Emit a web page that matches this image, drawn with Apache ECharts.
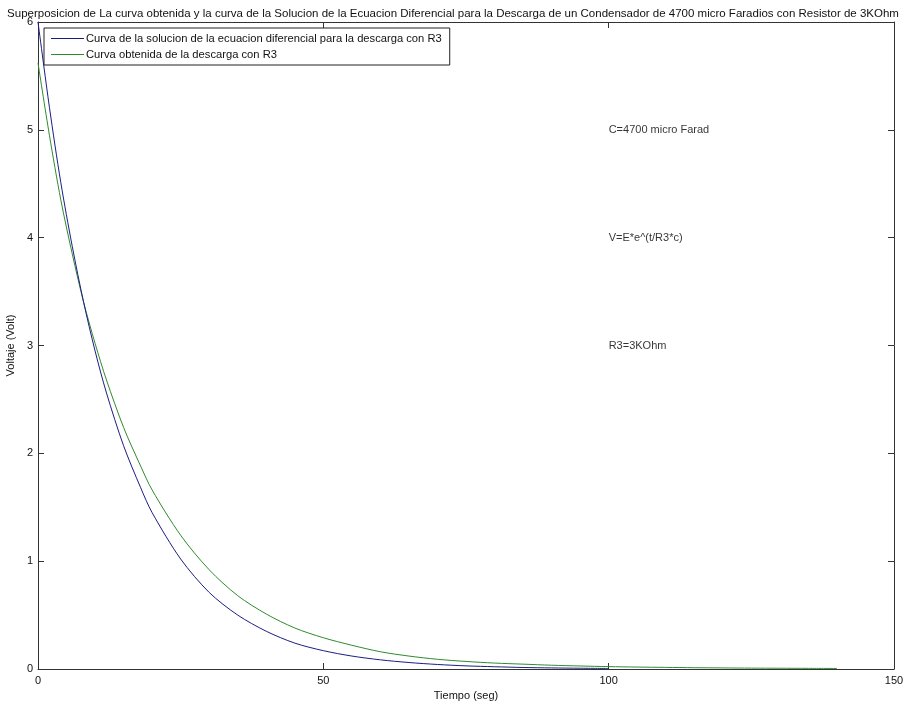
<!DOCTYPE html>
<html><head><meta charset="utf-8">
<script src="https://cdn.jsdelivr.net/npm/echarts@6/dist/echarts.min.js"></script>
<style>html,body{margin:0;padding:0;background:#fff}#c{width:906px;height:706px}</style>
</head><body><div id="c"></div>
<script>
const titleText = "Superposicion de La curva obtenida y la curva de la Solucion de la Ecuacion Diferencial para la Descarga de un Condensador de 4700 micro Faradios con Resistor de 3KOhm";
const xName = "Tiempo (seg)";
const yName = "Voltaje (Volt)";
const seriesNames = ["Curva de la solucion de la ecuacion diferencial para la descarga con R3", "Curva obtenida de la descarga con R3"];
const xTicks = [0, 50, 100, 150];
const yTicks = [0, 1, 2, 3, 4, 5, 6];

// blue: solution of the differential equation
const tSolution = [0, 2, 4, 6, 8, 10, 12, 15, 18, 20, 25, 30, 35, 40, 45, 50, 55, 60, 65, 70, 75, 80, 85, 90, 95, 100];
const vSolution = [6.00, 5.21, 4.51, 3.92, 3.40, 2.95, 2.56, 2.07, 1.68, 1.45, 1.02, 0.71, 0.50, 0.35, 0.24, 0.17, 0.12, 0.085, 0.06, 0.042, 0.029, 0.021, 0.014, 0.010, 0.007, 0.005];

const tMeasured = [0, 2, 4, 6, 8, 10, 12, 15, 18, 20, 25, 30, 35, 40, 45, 50, 55, 60, 65, 70, 75, 80, 85, 90, 95, 100, 105, 110, 115, 120, 125, 130, 135, 140];
const vMeasured = [5.62, 4.95, 4.35, 3.85, 3.40, 3.02, 2.68, 2.24, 1.88, 1.66, 1.24, 0.92, 0.68, 0.51, 0.38, 0.29, 0.22, 0.16, 0.12, 0.09, 0.07, 0.055, 0.045, 0.035, 0.028, 0.022, 0.018, 0.015, 0.012, 0.010, 0.008, 0.007, 0.006, 0.005];

const annotX = [100, 100, 100];
const annotY = [5, 4, 3];
const annotText = ["C=4700 micro Farad", "V=E*e^(t/R3*c)", "R3=3KOhm"];

const colors = ['#1c1c86', '#2f8a2f'];
const font = 'Liberation Sans, Arial, sans-serif';
const axisCol = '#333';

const chart = echarts.init(document.getElementById('c'), null, {renderer: 'canvas'});
const xMin = xTicks[0], xMax = xTicks[xTicks.length - 1];
const yMin = yTicks[0], yMax = yTicks[yTicks.length - 1];
const baseX = {
  type: 'value', min: xMin, max: xMax, interval: xTicks[1] - xTicks[0],
  axisLine: {show: true, onZero: false, lineStyle: {color: axisCol, width: 1}},
  axisTick: {show: true, inside: true, length: 6, lineStyle: {color: axisCol}},
  splitLine: {show: false}
};
const baseY = {
  type: 'value', min: yMin, max: yMax, interval: yTicks[1] - yTicks[0],
  axisLine: {show: true, onZero: false, lineStyle: {color: axisCol, width: 1}},
  axisTick: {show: true, inside: true, length: 6, lineStyle: {color: axisCol}},
  splitLine: {show: false}
};

chart.setOption({
  animation: false,
  backgroundColor: '#fff',
  title: {
    text: titleText, left: 'center', top: 3,
    textStyle: {fontFamily: font, fontSize: 11.5, fontWeight: 'normal', color: '#111'}
  },
  legend: {
    orient: 'vertical', left: 44, top: 28,
    data: seriesNames,
    icon: 'rect',
    itemWidth: 33, itemHeight: 1, itemGap: 5,
    padding: [5, 8, 5, 7],
    backgroundColor: '#fff', borderColor: '#222', borderWidth: 1,
    textStyle: {fontFamily: font, fontSize: 11.2, color: '#111', lineHeight: 10, padding: [0, 0, 0, -3]}
  },
  grid: {left: 38, right: 12, top: 22, bottom: 37, containLabel: false, outerBoundsMode: 'none'},
  xAxis: [
    Object.assign({}, baseX, {
      position: 'bottom', name: xName, nameLocation: 'middle', nameGap: 16,
      nameTextStyle: {fontFamily: font, fontSize: 11, color: '#111'},
      axisLabel: {show: true, margin: 6, fontFamily: font, fontSize: 11, color: '#111'}
    }),
    Object.assign({}, baseX, {position: 'top', axisLabel: {show: false}})
  ],
  yAxis: [
    Object.assign({}, baseY, {
      position: 'left', name: yName, nameLocation: 'middle', nameGap: 17,
      nameTextStyle: {fontFamily: font, fontSize: 11, color: '#111'},
      axisLabel: {show: true, margin: 5, fontFamily: font, fontSize: 11, color: '#111'}
    }),
    Object.assign({}, baseY, {position: 'right', axisLabel: {show: false}})
  ],
  series: [
    {
      name: seriesNames[0], type: 'line', xAxisIndex: 0, yAxisIndex: 0,
      data: tSolution.map((t, i) => [t, vSolution[i]]),
      symbol: 'none', smooth: 0.3, color: colors[0],
      lineStyle: {width: 1, color: colors[0]}, z: 3
    },
    {
      name: seriesNames[1], type: 'line', xAxisIndex: 0, yAxisIndex: 0,
      data: tMeasured.map((t, i) => [t, vMeasured[i]]),
      symbol: 'none', smooth: 0.3, color: colors[1],
      lineStyle: {width: 1, color: colors[1]}, z: 2
    },
    {
      type: 'scatter', xAxisIndex: 0, yAxisIndex: 0, symbolSize: 0, silent: true,
      data: annotX.map((x, i) => ({value: [x, annotY[i]], label: {formatter: annotText[i]}})),
      label: {show: true, position: 'right', distance: 0, fontFamily: font, fontSize: 11, color: '#000'}
    }
  ]
});
</script>
</body></html>
